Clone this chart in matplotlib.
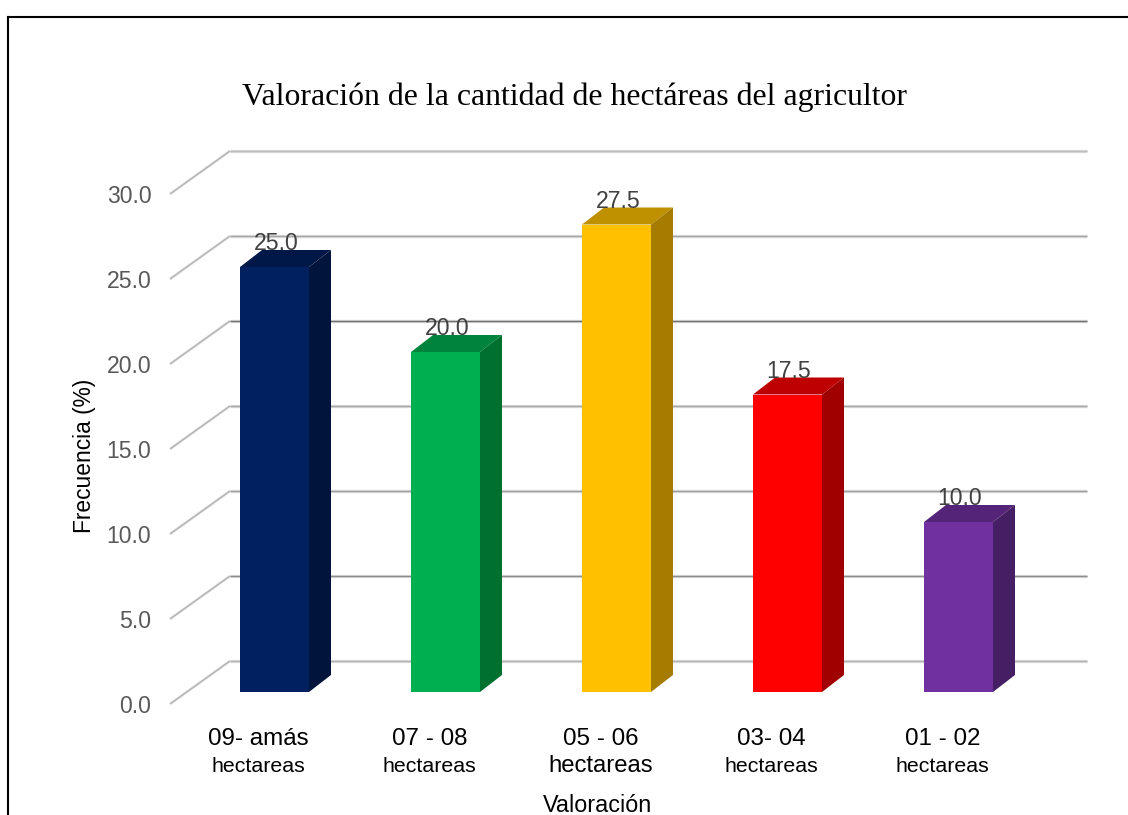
import matplotlib
matplotlib.use("Agg")
import matplotlib.pyplot as plt
from matplotlib.patches import Polygon
from matplotlib.lines import Line2D

plt.rcParams['font.family'] = ['Liberation Sans', 'DejaVu Sans']

W, H = 1128, 815

first_line = ['09- amás', '07 - 08', '05 - 06', '03- 04', '01 - 02']
second_line = ['hectareas', 'hectareas', 'hectareas', 'hectareas', 'hectareas']
second_size = [15.4, 15.4, 17.2, 15.4, 15.4]
values = [25.0, 20.0, 27.5, 17.5, 10.0]
front_colors = ['#002060', '#00B050', '#FFC000', '#FF0000', '#7030A0']
top_colors = ['#001848', '#00843C', '#BF9000', '#BF0000', '#542478']
side_colors = ['#00143C', '#00702F', '#A67C00', '#A00000', '#461E64']
y_ticks = [0, 5, 10, 15, 20, 25, 30]
grid_colors = ['#b4b4b4', '#8c8c8c', '#a0a0a0', '#a8a8a8', '#707070', '#a8a8a8', '#bcbcbc']

# pixel layout of the picture
px_x = 171.0        # one category
px_y = 17.0         # one percent
left, right, bottom, top = 170, 1087, 704, 194
tick0 = 258.5

fig = plt.figure(figsize=(W / 100, H / 100), dpi=100)
ax = fig.add_axes([left / W, 1 - bottom / H, (right - left) / W, (bottom - top) / H])
ax.set_xlim((left - tick0) / px_x, (right - tick0) / px_x)
ax.set_ylim(0, 30)
for s in ax.spines.values():
    s.set_visible(False)

# 3d offsets in data units
wall_dx = 60 / px_x
wall_dy = 43 / px_y
bar_dx = 22 / px_x
bar_dy = 17 / px_y
bar_lift = 12 / px_y
bar_shift = 16 / px_x
bar_w = 69 / px_x

# wall gridlines and the slanted lines on the side, light edge with a darker core
x_start = ax.get_xlim()[0]
x_end = ax.get_xlim()[1]
for v, c in zip(y_ticks, grid_colors):
    for lw, col in [(2.4, '#dcdcdc'), (1.0, c)]:
        ax.plot([x_start, x_start + wall_dx], [v, v + wall_dy], color=col if lw > 2 else '#b0b0b0',
                lw=lw * 0.8, clip_on=False, zorder=1, solid_capstyle='butt')
        ax.plot([x_start + wall_dx, x_end], [v + wall_dy, v + wall_dy],
                color=col, lw=lw, clip_on=False, zorder=1, solid_capstyle='butt')

xs = [i + bar_shift for i in range(len(values))]
ax.bar(xs, values, width=bar_w, bottom=bar_lift, color=front_colors, zorder=3, clip_on=False)

for x, v, ct, cs in zip(xs, values, top_colors, side_colors):
    x0 = x - bar_w / 2
    x1 = x + bar_w / 2
    y0 = bar_lift
    y1 = bar_lift + v
    ax.add_patch(Polygon([(x0, y1), (x1, y1), (x1 + bar_dx, y1 + bar_dy), (x0 + bar_dx, y1 + bar_dy)],
                         closed=True, facecolor=ct, edgecolor='none', zorder=3, clip_on=False))
    ax.add_patch(Polygon([(x1, y0), (x1 + bar_dx, y0 + bar_dy), (x1 + bar_dx, y1 + bar_dy), (x1, y1)],
                         closed=True, facecolor=cs, edgecolor='none', zorder=3, clip_on=False))
    ax.text(x + 1.5 / px_x, y1 + 23.5 / px_y, f'{v:.1f}', ha='center', va='center',
            fontsize=16.6, color='#404040', zorder=4, clip_on=False)

ax.set_yticks(y_ticks)
ax.set_yticklabels([f'{v:.1f}' for v in y_ticks], fontsize=16.6, color='#595959')
ax.set_xticks(range(len(first_line)))
ax.set_xticklabels(first_line, fontsize=17.4, color='black')
ax.tick_params(axis='y', length=0, pad=13.5)
ax.tick_params(axis='x', length=0, pad=17.5)

for i, (t, fs) in enumerate(zip(second_line, second_size)):
    ax.annotate(t, (i, 0), xytext=(0, -62), xycoords='data', textcoords='offset pixels',
                ha='center', va='center', fontsize=fs, color='black', annotation_clip=False)

fig.text(575 / W, 1 - 97 / H, 'Valoración de la cantidad de hectáreas del agricultor',
         family='Liberation Serif', fontsize=22.9, color='black', ha='center', va='center')
fig.text(598 / W, 1 - 805 / H, 'Valoración', fontsize=16.8, color='black', ha='center', va='center')
fig.text(84 / W, 1 - 456 / H, 'Frecuencia (%)', fontsize=16.4, color='black', rotation=90,
         ha='center', va='center')

# page frame
fig.add_artist(Line2D([7.5 / W, 7.5 / W], [0, 1 - 16.5 / H], color='black', lw=1.5))
fig.add_artist(Line2D([7.5 / W, 1], [1 - 16.5 / H, 1 - 16.5 / H], color='black', lw=1.5))

fig.savefig('out.png', dpi=100)
